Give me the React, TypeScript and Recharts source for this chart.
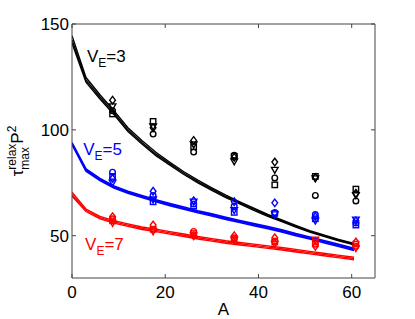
import React from "react";
import {
  ComposedChart,
  Line,
  Scatter,
  XAxis,
  YAxis,
  ReferenceDot,
  Label,
} from "recharts";

const FONT = "'Liberation Sans', Arial, Helvetica, sans-serif";

// Curve sample positions (A)
const curveA = [0, 3, 6, 9, 12, 15, 18, 21, 24, 27, 30, 33, 36, 39, 42, 45, 48, 51, 54, 57, 60.5];

const black1 = [144.5, 124.7, 116.6, 109, 101, 95, 89.4, 84.7, 80.2, 76.2, 72.6, 69.1, 66, 63, 60, 57.4, 54.9, 52.4, 50.4, 48.3, 46.3];
const black2 = [142.5, 123.5, 115.5, 108, 100, 94, 88.5, 84, 79.5, 75.5, 72, 68.5, 65.5, 62.5, 59.5, 57, 54.5, 52, 50, 48, 46];
const black3 = [141, 122.5, 114.6, 107.2, 99.2, 93.3, 87.8, 83.3, 78.9, 74.9, 71.4, 68, 65, 62, 59.1, 56.6, 54.1, 51.7, 49.7, 47.7, 45.7];

const blue1 = [94, 81.5, 77, 73.5, 71, 69, 67, 65.2, 63.5, 61.8, 60.3, 58.7, 57.2, 55.7, 54.3, 52.8, 51, 49.4, 47.7, 46, 44];
const blue2 = [93.5, 81, 76.5, 73, 70.5, 68.5, 66.5, 64.7, 63, 61.3, 59.8, 58.2, 56.7, 55.2, 53.8, 52.3, 50.5, 48.9, 47.2, 45.5, 43.5];
const blue3 = [93, 80.5, 76, 72.5, 70, 68, 66, 64.2, 62.5, 60.8, 59.3, 57.7, 56.2, 54.7, 53.3, 51.8, 50, 48.4, 46.7, 45, 43];

const red1 = [70.5, 62.6, 59.1, 57.1, 55.6, 54.1, 53.1, 51.9, 50.8, 49.6, 48.6, 47.6, 46.8, 46, 45.2, 44.4, 43.5, 42.6, 41.7, 40.8, 39.8];
const red2 = [69.5, 62, 58.5, 56.5, 55, 53.5, 52.5, 51.3, 50.2, 49, 48, 47, 46.2, 45.4, 44.6, 43.8, 42.9, 42, 41.1, 40.2, 39.2];
const red3 = [68.7, 61.4, 57.9, 55.9, 54.4, 52.9, 51.9, 50.7, 49.6, 48.4, 47.4, 46.4, 45.6, 44.8, 44, 43.2, 42.3, 41.4, 40.5, 39.6, 38.6];

// Marker positions (A)
const markerA = [8.7, 17.4, 26.1, 34.8, 43.5, 52.2, 60.9];

const blackDiamond = [114, 101, 95, 87, 84.8, 77.5, 70];
const blackTriDown = [111, 101.5, 93, 85, 81, 77, 69];
const blackCircle = [109, 98, 89.5, 88, 77.3, 69, 66.4];
const blackSquare = [107.5, 104, 92, 87.5, 74, 78, 72];

const blueDiamond = [77, 71, 66.5, 66, 65.5, 59, 57];
const blueTriDown = [75, 67, 66, 62, 60, 57, 57.5];
const blueCircle = [80, 69, 65, 64, 61, 60, 56];
const blueSquare = [78, 66, 64, 61, 60.5, 58, 55];

const redDiamond = [59, 55, 50, 50, 49, 45, 47];
const redTriDown = [56, 52, 50, 48, 46, 48, 44];
const redCircle = [58, 53, 52, 49, 47.5, 46, 45];
const redSquare = [57, 53, 51, 48.5, 47, 47, 46];

const xTicks = [0, 20, 40, 60];
const yTicks = [50, 100, 150];

const toRows = (xs: number[], ys: number[]) => xs.map((a, i) => ({ A: a, v: ys[i] }));

type Kind = "diamond" | "triDown" | "circle" | "square";

const makeShape = (kind: Kind, color: string) => (props: any) => {
  const { cx, cy } = props;
  if (cx == null || cy == null) return <g />;
  const common = { fill: "none", stroke: color, strokeWidth: 1.4 };
  if (kind === "diamond") {
    const r = 3.8;
    return <path d={`M${cx},${cy - r}L${cx + r * 0.75},${cy}L${cx},${cy + r}L${cx - r * 0.75},${cy}Z`} {...common} />;
  }
  if (kind === "triDown") {
    const r = 3.3;
    return <path d={`M${cx - r},${cy - r * 0.8}L${cx + r},${cy - r * 0.8}L${cx},${cy + r}Z`} {...common} />;
  }
  if (kind === "circle") {
    return <circle cx={cx} cy={cy} r={2.8} {...common} />;
  }
  const s = 2.7;
  return <rect x={cx - s} y={cy - s} width={2 * s} height={2 * s} {...common} />;
};

const BottomTick = (props: any) => {
  const { x, y, payload } = props;
  return (
    <g>
      <line x1={x} x2={x} y1={y} y2={y - 4} stroke="#444" strokeWidth={1} />
      <text x={x} y={y + 20} textAnchor="middle" fontSize={17} fontFamily={FONT} fill="#000">
        {payload.value}
      </text>
    </g>
  );
};

const TopTick = (props: any) => {
  const { x, y } = props;
  return <line x1={x} x2={x} y1={y} y2={y + 4} stroke="#444" strokeWidth={1} />;
};

const LeftTick = (props: any) => {
  const { x, y, payload } = props;
  return (
    <g>
      <line x1={x} x2={x + 4} y1={y} y2={y} stroke="#444" strokeWidth={1} />
      <text x={x - 3} y={y + 6} textAnchor="end" fontSize={17} fontFamily={FONT} fill="#000">
        {payload.value}
      </text>
    </g>
  );
};

const RightTick = (props: any) => {
  const { x, y } = props;
  return <line x1={x} x2={x - 4} y1={y} y2={y} stroke="#444" strokeWidth={1} />;
};

const YLabel = (props: any) => {
  const vb = props.viewBox || { x: 0, y: 24, width: 72, height: 254 };
  const cx = 23;
  const cy = vb.y + vb.height / 2;
  return (
    <text
      x={cx}
      y={cy}
      transform={`rotate(-90, ${cx}, ${cy})`}
      textAnchor="middle"
      fontFamily={FONT}
      fontSize={17}
      fill="#000"
    >
      τ
      <tspan fontSize={12} dy={-7}>relax</tspan>
      <tspan fontSize={12} dx={-26} dy={13}>max</tspan>
      <tspan fontSize={17} dx={3.3} dy={-6}>P</tspan>
      <tspan fontSize={12} dy={-7}>2</tspan>
    </text>
  );
};

const XLabel = (props: any) => {
  const vb = props.viewBox || { x: 72, y: 278, width: 303, height: 41 };
  return (
    <text x={vb.x + vb.width / 2} y={315} textAnchor="middle" fontFamily={FONT} fontSize={17} fill="#000">
      A
    </text>
  );
};

const makeVLabel = (num: string, color: string) => (props: any) => {
  const { cx, cy } = props;
  if (cx == null || cy == null) return <g />;
  return (
    <text x={cx} y={cy} fontFamily={FONT} fontSize={17} fill={color}>
      V
      <tspan fontSize={12} dy={5}>E</tspan>
      <tspan fontSize={17} dy={-5}>={num}</tspan>
    </text>
  );
};

const lineSeries = [
  { data: black1, color: "#000000", w: 1.4 },
  { data: black2, color: "#000000", w: 1.4 },
  { data: black3, color: "#000000", w: 1.4 },
  { data: blue1, color: "#0000ff", w: 1.6 },
  { data: blue2, color: "#0000ff", w: 1.6 },
  { data: blue3, color: "#0000ff", w: 1.6 },
  { data: red1, color: "#ff0000", w: 1.4 },
  { data: red2, color: "#ff0000", w: 1.4 },
  { data: red3, color: "#ff0000", w: 1.4 },
];

const markerSeries: { data: number[]; kind: Kind; color: string }[] = [
  { data: blackDiamond, kind: "diamond", color: "#000000" },
  { data: blackTriDown, kind: "triDown", color: "#000000" },
  { data: blackCircle, kind: "circle", color: "#000000" },
  { data: blackSquare, kind: "square", color: "#000000" },
  { data: blueDiamond, kind: "diamond", color: "#0000ff" },
  { data: blueTriDown, kind: "triDown", color: "#0000ff" },
  { data: blueCircle, kind: "circle", color: "#0000ff" },
  { data: blueSquare, kind: "square", color: "#0000ff" },
  { data: redDiamond, kind: "diamond", color: "#ff0000" },
  { data: redTriDown, kind: "triDown", color: "#ff0000" },
  { data: redCircle, kind: "circle", color: "#ff0000" },
  { data: redSquare, kind: "square", color: "#ff0000" },
];

export default function App() {
  return (
    <div style={{ position: "absolute", left: 0, top: 0, background: "#fff" }}>
      <ComposedChart width={415} height={319} margin={{ top: 0, right: 0, bottom: 0, left: 0 }}>
        <XAxis
          xAxisId="main"
          type="number"
          dataKey="A"
          domain={[0, 65]}
          ticks={xTicks}
          allowDataOverflow
          orientation="bottom"
          height={41}
          tickSize={0}
          tickMargin={0}
          tickLine={false}
          tick={<BottomTick />}
          axisLine={{ stroke: "#444", strokeWidth: 1 }}
        >
          <Label content={<XLabel />} />
        </XAxis>
        <XAxis
          xAxisId="top"
          type="number"
          dataKey="A"
          domain={[0, 65]}
          ticks={xTicks}
          allowDataOverflow
          orientation="top"
          height={24}
          tickSize={0}
          tickMargin={0}
          tickLine={false}
          tick={<TopTick />}
          axisLine={{ stroke: "#444", strokeWidth: 1 }}
        />
        <YAxis
          yAxisId="main"
          type="number"
          dataKey="v"
          domain={[30, 150]}
          ticks={yTicks}
          allowDataOverflow
          orientation="left"
          width={72}
          tickSize={0}
          tickMargin={0}
          tickLine={false}
          tick={<LeftTick />}
          axisLine={{ stroke: "#444", strokeWidth: 1 }}
        >
          <Label content={<YLabel />} />
        </YAxis>
        <YAxis
          yAxisId="right"
          type="number"
          dataKey="v"
          domain={[30, 150]}
          ticks={yTicks}
          allowDataOverflow
          orientation="right"
          width={40}
          tickSize={0}
          tickMargin={0}
          tickLine={false}
          tick={<RightTick />}
          axisLine={{ stroke: "#444", strokeWidth: 1 }}
        />
        {lineSeries.map((s, i) => (
          <Line
            key={`l${i}`}
            xAxisId="main"
            yAxisId="main"
            data={toRows(curveA, s.data)}
            dataKey="v"
            type="linear"
            stroke={s.color}
            strokeWidth={s.w}
            dot={false}
            activeDot={false}
            isAnimationActive={false}
          />
        ))}
        {markerSeries.map((s, i) => (
          <Scatter
            key={`s${i}`}
            xAxisId="main"
            yAxisId="main"
            data={toRows(markerA, s.data)}
            dataKey="v"
            shape={makeShape(s.kind, s.color)}
            isAnimationActive={false}
          />
        ))}
        <ReferenceDot xAxisId="main" yAxisId="main" x={3.2} y={132} r={0} ifOverflow="visible" shape={makeVLabel("3", "#000000")} />
        <ReferenceDot xAxisId="main" yAxisId="main" x={2.4} y={88} r={0} ifOverflow="visible" shape={makeVLabel("5", "#0000ff")} />
        <ReferenceDot xAxisId="main" yAxisId="main" x={2.8} y={43.2} r={0} ifOverflow="visible" shape={makeVLabel("7", "#ff0000")} />
      </ComposedChart>
    </div>
  );
}
